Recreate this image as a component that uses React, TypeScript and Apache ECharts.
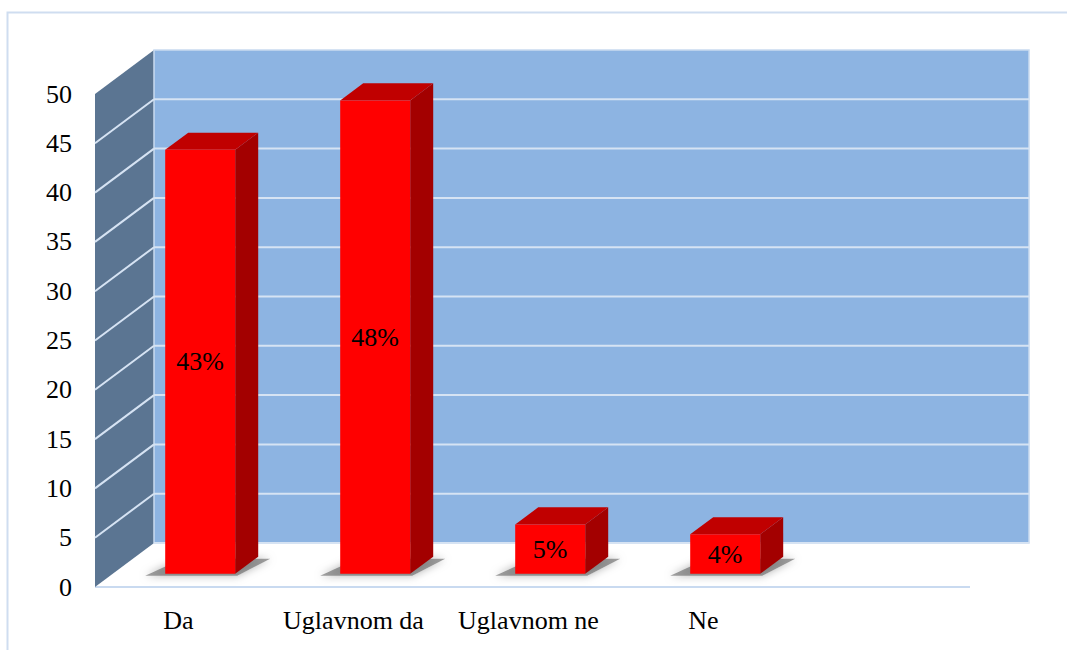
import React, { useEffect, useRef } from "react";
import * as echarts from "echarts";

const categories = ["Da", "Uglavnom da", "Uglavnom ne", "Ne", ""];
const values = [43, 48, 5, 4];
const yMin = 0;
const yMax = 50;
const yInterval = 5;
const gridValues = [0, 5, 10, 15, 20, 25, 30, 35, 40, 45];

const FONT = "'Liberation Serif', 'Times New Roman', serif";
const DX = 59;
const DY = -44;

export default function App() {
  const ref = useRef<HTMLDivElement>(null);

  useEffect(() => {
    if (!ref.current) return;
    const chart = echarts.init(ref.current, null, { renderer: "svg" });

    const wallsRender = (params: any, api: any) => {
      const cs = params.coordSys;
      const x0 = cs.x;
      const y0 = cs.y;
      const w = cs.width;
      const h = cs.height;
      const yb = y0 + h;
      const children: any[] = [];
      children.push({
        type: "polygon",
        shape: { points: [[x0, yb], [x0 + w, yb], [x0 + w + DX, yb + DY], [x0 + DX, yb + DY]] },
        style: { fill: "#ffffff" },
      });
      children.push({
        type: "line",
        shape: { x1: x0, y1: yb, x2: x0 + w, y2: yb },
        style: { stroke: "#C9DAF0", lineWidth: 2 },
      });
      children.push({
        type: "polygon",
        shape: { points: [[x0, yb], [x0, y0], [x0 + DX, y0 + DY], [x0 + DX, yb + DY]] },
        style: { fill: "#5B7592" },
      });
      children.push({
        type: "rect",
        shape: { x: x0 + DX, y: y0 + DY, width: w, height: h },
        style: { fill: "#8DB4E2", stroke: "#C9DAF0", lineWidth: 1.5 },
      });
      gridValues.forEach((v) => {
        const yv = api.coord([0, v])[1];
        children.push({
          type: "line",
          shape: { x1: x0 + DX, y1: yv + DY, x2: x0 + DX + w, y2: yv + DY },
          style: { stroke: "#D6E3F3", lineWidth: 2 },
        });
        if (v > 0) {
          children.push({
            type: "line",
            shape: { x1: x0, y1: yv, x2: x0 + DX, y2: yv + DY },
            style: { stroke: "#D6E3F3", lineWidth: 2 },
          });
        }
      });
      return { type: "group", children };
    };

    const barsRender = (params: any, api: any) => {
      const i = api.value(0);
      const v = api.value(1);
      const c0 = api.coord([i, 0]);
      const c1 = api.coord([i, v]);
      const bw = api.size([1, 0])[0];
      const fw = bw * 0.4;
      const t0 = 0.3;
      const td = 0.39;
      const fx = c0[0] - fw / 2 + DX * t0;
      const fyb = c0[1] + DY * t0;
      const fyt = c1[1] + DY * t0;
      const ddx = DX * td;
      const ddy = DY * td;
      return {
        type: "group",
        children: [
          {
            type: "polygon",
            shape: {
              points: [
                [fx - 20, fyb + 2],
                [fx + fw + 2, fyb + 2],
                [fx + fw + ddx + 12, fyb + ddy + 2],
                [fx + ddx - 6, fyb + ddy + 2],
              ],
            },
            style: { fill: "rgba(70,70,70,0.5)", shadowBlur: 8, shadowColor: "rgba(0,0,0,0.6)" },
          },
          {
            type: "polygon",
            shape: {
              points: [
                [fx + fw, fyt],
                [fx + fw + ddx, fyt + ddy],
                [fx + fw + ddx, fyb + ddy],
                [fx + fw, fyb],
              ],
            },
            style: { fill: "#A30000" },
          },
          {
            type: "polygon",
            shape: {
              points: [
                [fx, fyt],
                [fx + fw, fyt],
                [fx + fw + ddx, fyt + ddy],
                [fx + ddx, fyt + ddy],
              ],
            },
            style: { fill: "#C00000" },
          },
          {
            type: "rect",
            shape: { x: fx, y: fyt, width: fw, height: fyb - fyt },
            style: { fill: "#FF0000" },
          },
          {
            type: "text",
            x: fx + fw / 2,
            y: (fyt + fyb) / 2,
            style: {
              text: `${v}%`,
              fill: "#000000",
              font: `26px ${FONT}`,
              align: "center",
              verticalAlign: "middle",
            },
          },
        ],
      };
    };

    chart.setOption({
      animation: false,
      backgroundColor: "#ffffff",
      grid: {
        left: 95,
        right: 97,
        top: 94,
        bottom: 63,
        containLabel: false,
        outerBoundsMode: "none",
      },
      xAxis: {
        type: "category",
        data: categories,
        axisLine: { show: false },
        axisTick: { show: false },
        splitLine: { show: false },
        axisLabel: {
          margin: 20,
          color: "#000000",
          fontFamily: FONT,
          fontSize: 26,
          padding: [0, 8, 0, 0],
          interval: 0,
        },
      },
      yAxis: {
        type: "value",
        min: yMin,
        max: yMax,
        interval: yInterval,
        axisLine: { show: false },
        axisTick: { show: false },
        splitLine: { show: false },
        axisLabel: {
          margin: 23,
          color: "#000000",
          fontFamily: FONT,
          fontSize: 26,
        },
      },
      graphic: [
        {
          type: "rect",
          shape: { x: 7.5, y: 12.5, width: 1100, height: 700 },
          style: { fill: "none", stroke: "#CFDDF0", lineWidth: 2 },
          silent: true,
        },
      ],
      series: [
        {
          type: "custom",
          renderItem: wallsRender,
          data: [[0, 0]],
          silent: true,
          z: 1,
        },
        {
          type: "custom",
          renderItem: barsRender,
          data: values.map((v, i) => [i, v]),
          silent: true,
          z: 2,
        },
      ],
    });

    return () => chart.dispose();
  }, []);

  return (
    <div
      ref={ref}
      style={{ position: "fixed", left: 0, top: 0, width: 1067, height: 650 }}
    />
  );
}
